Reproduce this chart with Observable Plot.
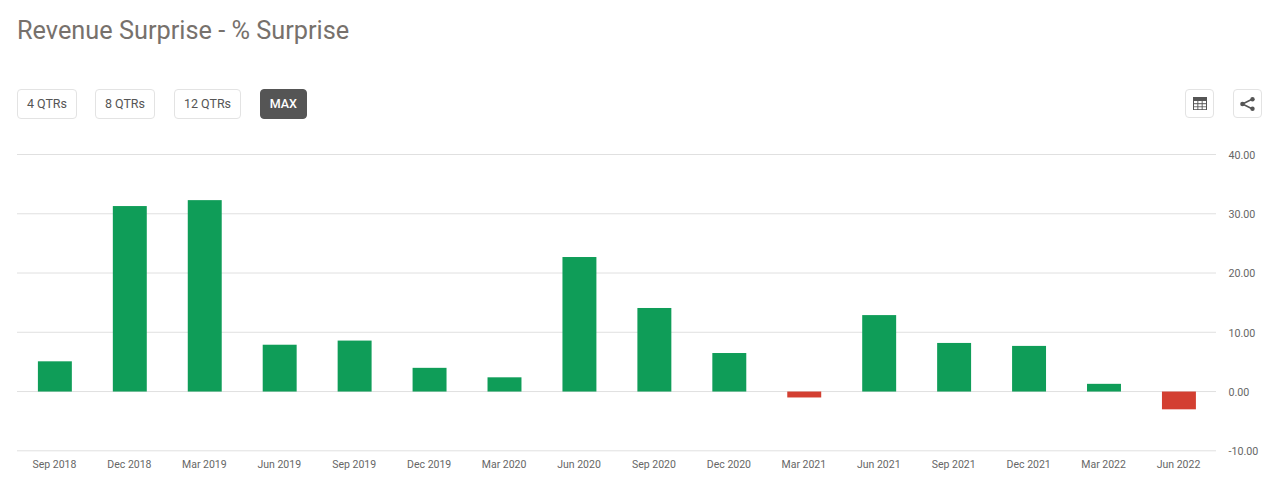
<!DOCTYPE html>
<html>
<head>
<meta charset="utf-8">
<script src="https://cdn.jsdelivr.net/npm/d3@7"></script>
<script src="https://cdn.jsdelivr.net/npm/@observablehq/plot@0.6"></script>
<style>
  html, body { margin: 0; padding: 0; background: #fff; }
  body { width: 1280px; height: 484px; overflow: hidden; font-family: Roboto, sans-serif; position: relative; }
  #header { position: relative; height: 130px; }
  h1 { position: absolute; left: 17px; top: 16px; margin: 0; font-size: 25.3px; line-height: 30px; font-weight: 400; color: #77716c; }
  .btn { position: absolute; top: 88.5px; height: 28px; line-height: 27px; box-sizing: content-box; border: 1px solid #e3e3e3; border-radius: 4px; font-size: 12.5px; color: #555; text-align: center; background: #fff; }
  .btn.active { background: #555; border-color: #555; color: #fff; font-weight: 500; }
  .icon { position: absolute; top: 89px; width: 27px; height: 27px; border: 1px solid #e3e3e3; border-radius: 4px; display: flex; align-items: center; justify-content: center; }
  #chart svg { display: block; }
</style>
</head>
<body>
<div id="header">
  <h1>Revenue Surprise - % Surprise</h1>
  <div class="btn" style="left:17px;width:58px">4 QTRs</div>
  <div class="btn" style="left:95px;width:58px">8 QTRs</div>
  <div class="btn" style="left:174px;width:65px">12 QTRs</div>
  <div class="btn active" style="left:260px;width:44.5px">MAX</div>
  <div class="icon" style="left:1185px">
    <svg width="14" height="13" viewBox="0 0 14 13"><rect x="0" y="0" width="14" height="13" fill="#555"/><g fill="#fff"><rect x="1" y="4" width="3.4" height="2.2"/><rect x="5.3" y="4" width="3.4" height="2.2"/><rect x="9.6" y="4" width="3.4" height="2.2"/><rect x="1" y="7.2" width="3.4" height="2.2"/><rect x="5.3" y="7.2" width="3.4" height="2.2"/><rect x="9.6" y="7.2" width="3.4" height="2.2"/><rect x="1" y="10.2" width="3.4" height="2"/><rect x="5.3" y="10.2" width="3.4" height="2"/><rect x="9.6" y="10.2" width="3.4" height="2"/></g></svg>
  </div>
  <div class="icon" style="left:1233px">
    <svg width="15" height="14" viewBox="0 0 15 14"><path d="M2.5 7 L12.5 2 M2.5 7 L12.5 12" stroke="#555" stroke-width="1.4" fill="none"/><circle cx="2.5" cy="7" r="2.3" fill="#555"/><circle cx="12.5" cy="2.2" r="2.2" fill="#555"/><circle cx="12.5" cy="11.8" r="2.2" fill="#555"/></svg>
  </div>
</div>
<div id="chart"></div>
<script>
const quarters = ["Sep 2018","Dec 2018","Mar 2019","Jun 2019","Sep 2019","Dec 2019","Mar 2020","Jun 2020","Sep 2020","Dec 2020","Mar 2021","Jun 2021","Sep 2021","Dec 2021","Mar 2022","Jun 2022"];
const surprise = [5.1,31.3,32.3,7.9,8.6,4.0,2.4,22.7,14.1,6.5,-1.0,12.9,8.2,7.7,1.3,-3.0];
const yTicks = [-10,0,10,20,30,40];
const rows = quarters.map((q, i) => ({quarter: q, value: surprise[i]}));

const chart = Plot.plot({
  width: 1280,
  height: 354,
  marginLeft: 17,
  marginRight: 64,
  marginTop: 24,
  marginBottom: 33.7,
  style: {fontFamily: "Roboto, sans-serif", background: "#fff", overflow: "visible"},
  x: {type: "band", domain: quarters, round: false, paddingInner: 0.547, paddingOuter: 0.2735, align: 0.5, label: null},
  y: {domain: [-10, 40], label: null},
  marks: [
    Plot.ruleY(yTicks, {stroke: "#e0e0e0", strokeWidth: 1, strokeOpacity: 1}),
    Plot.barY(rows, {x: "quarter", y: "value", dx: 0.4, dy: 0.5, fill: d => d.value < 0 ? "#d33f31" : "#0f9d58"}),
    Plot.axisY({anchor: "right", ticks: yTicks, tickSize: 0, tickPadding: 12, dy: 1, tickFormat: d => d.toFixed(2), fontSize: 10.7, color: "#666", label: null}),
    Plot.axisX({anchor: "bottom", tickSize: 0, tickPadding: 10, dx: -0.5, fontSize: 10.5, color: "#666", label: null})
  ]
});
document.getElementById("chart").appendChild(chart);
</script>
</body>
</html>
